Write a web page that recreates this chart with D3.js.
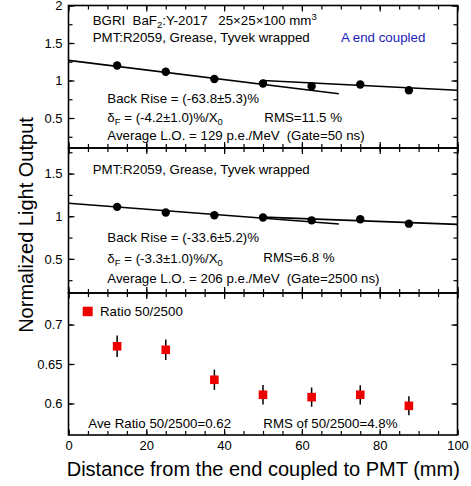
<!DOCTYPE html>
<html>
<head>
<meta charset="utf-8">
<script src="https://cdn.jsdelivr.net/npm/d3@7"></script>
<style>
  body { margin: 0; background: #fff; }
  text { font-family: Arial, "Liberation Sans", sans-serif; }
</style>
</head>
<body>
<script>
// size of the whole figure
var w = 471;
var h = 486;
var left = 68.5;
var right = 457.5;

// measurement positions along the crystal (mm)
var distance = [12.5, 25, 37.5, 50, 62.5, 75, 87.5];

// normalized light output, gate 50 ns and 2500 ns
var lo50 = [1.20, 1.116, 1.02, 0.96, 0.924, 0.947, 0.87];
var lo2500 = [1.11, 1.044, 1.012, 0.985, 0.952, 0.964, 0.913];

// ratio 50/2500 with errors
var ratio = [0.6725, 0.668, 0.630, 0.611, 0.608, 0.611, 0.597];
var ratioErr = [0.0135, 0.013, 0.0128, 0.0123, 0.0122, 0.0122, 0.012];

// fit lines, end points [distance, value]
var front50 = [[0, 1.268], [69.5, 0.823]];
var back50 = [[50, 1.0], [100, 0.87]];
var front2500 = [[0, 1.152], [69.5, 0.909]];
var back2500 = [[50, 0.99], [100, 0.905]];

// tick values
var xTicks = [0, 20, 40, 60, 80, 100];
var yTicks1 = [0.5, 1, 1.5, 2];
var yTicks2 = [0.5, 1, 1.5];
var yTicks3 = [0.6, 0.65, 0.7];

var svg = d3.select("body")
            .append("svg")
            .attr("width", w)
            .attr("height", h);

var x = d3.scaleLinear()
          .domain([0, 100])
          .range([left, right]);

var y1 = d3.scaleLinear().domain([0.1, 2]).range([148, 5.5]);
var y2 = d3.scaleLinear().domain([0.1, 1.8]).range([293, 148]);
var y3 = d3.scaleLinear().domain([0.56, 0.74]).range([435, 293]);

// draws inward ticks on all four sides plus the frame
function frame(y, major, minor, labels) {
  var top = y.range()[1];
  var bottom = y.range()[0];
  var g = svg.append("g");

  var axes = [
    {a: d3.axisTop(x), t: "translate(0," + top + ")", vals: [d3.range(0, 101, 20), d3.range(0, 101, 5)]},
    {a: d3.axisBottom(x), t: "translate(0," + bottom + ")", vals: [d3.range(0, 101, 20), d3.range(0, 101, 5)]},
    {a: d3.axisLeft(y), t: "translate(" + left + ",0)", vals: [major, minor]},
    {a: d3.axisRight(y), t: "translate(" + right + ",0)", vals: [major, minor]}
  ];

  axes.forEach(function(d) {
    g.append("g")
     .attr("transform", d.t)
     .call(d.a.tickValues(d.vals[1]).tickSize(-4).tickFormat(""))
     .call(s => s.select(".domain").remove())
     .call(s => s.selectAll("text").remove());
    g.append("g")
     .attr("transform", d.t)
     .call(d.a.tickValues(d.vals[0]).tickSize(-6).tickFormat(""))
     .call(s => s.select(".domain").remove())
     .call(s => s.selectAll("text").remove());
  });

  g.selectAll("line").attr("stroke-width", 1.2);

  // tick labels on the left
  g.append("g")
   .attr("transform", "translate(" + left + ",0)")
   .call(d3.axisLeft(y).tickValues(labels).tickSize(0).tickPadding(6).tickFormat(d3.format("")))
   .call(s => s.select(".domain").remove())
   .selectAll("text")
   .attr("font-size", "13px")
   .attr("font-family", null)
   .attr("fill", "#000");

  g.append("rect")
   .attr("x", left)
   .attr("y", top)
   .attr("width", right - left)
   .attr("height", bottom - top)
   .attr("fill", "none")
   .attr("stroke", "black")
   .attr("stroke-width", 1.6);
}

frame(y1, yTicks1, d3.range(0.25, 2.01, 0.25), yTicks1);
frame(y2, yTicks2, d3.range(0.25, 1.76, 0.25), yTicks2);
frame(y3, yTicks3, yTicks3, yTicks3);

// x tick labels
svg.append("g")
   .attr("transform", "translate(0,435)")
   .call(d3.axisBottom(x).tickValues(xTicks).tickSize(0).tickPadding(6))
   .call(s => s.select(".domain").remove())
   .selectAll("text")
   .attr("font-size", "13px")
   .attr("font-family", null)
   .attr("fill", "#000");

// fit lines and points
function lightPanel(y, values, fits) {
  var line = d3.line()
               .x(d => x(d[0]))
               .y(d => y(d[1]));

  fits.forEach(function(f) {
    svg.append("path")
       .attr("d", line(f))
       .attr("fill", "none")
       .attr("stroke", "black")
       .attr("stroke-width", 1.6);
  });

  svg.append("g")
     .selectAll("circle")
     .data(values)
     .enter().append("circle")
     .attr("cx", (d, i) => x(distance[i]))
     .attr("cy", d => y(d))
     .attr("r", 4.2)
     .attr("fill", "black");
}

lightPanel(y1, lo50, [front50, back50]);
lightPanel(y2, lo2500, [front2500, back2500]);

// ratio panel
var bars = svg.append("g");
bars.selectAll("line")
    .data(ratio)
    .enter().append("line")
    .attr("x1", (d, i) => x(distance[i]))
    .attr("x2", (d, i) => x(distance[i]))
    .attr("y1", (d, i) => y3(d - ratioErr[i]))
    .attr("y2", (d, i) => y3(d + ratioErr[i]))
    .attr("stroke", "black")
    .attr("stroke-width", 1.5);

bars.selectAll("rect")
    .data(ratio)
    .enter().append("rect")
    .attr("x", (d, i) => x(distance[i]) - 4.3)
    .attr("y", d => y3(d) - 4.3)
    .attr("width", 8.6)
    .attr("height", 8.6)
    .attr("fill", "#ee0000");

// texts; parts are [text, shift, absolute x]; shift > 0 is subscript, < 0 superscript
function label(px, py, parts, color) {
  var t = svg.append("text")
             .attr("x", px)
             .attr("y", py)
             .attr("font-size", "13.3px")
             .attr("fill", color || "black");
  var cur = 0;
  parts.forEach(function(p) {
    var shift = p[1] || 0;
    var s = t.append("tspan").text(p[0]);
    if (shift != cur) s.attr("dy", shift - cur);
    if (shift != 0) s.attr("font-size", "9.5px");
    if (p[2] != null) s.attr("x", p[2]);
    cur = shift;
  });
  return t;
}

label(92.7, 25, [["BGRI  BaF"], ["2", 3], [":Y-2017"], ["25\u00d725\u00d7100 mm", 0, 218.3], ["3", -5]])
  .style("white-space", "pre");
label(92.7, 42, [["PMT:R2059, Grease, Tyvek wrapped"]]);
label(341, 42, [["A end coupled"]], "#2020b8");

label(107.3, 103, [["Back Rise = (-63.8\u00b15.3)%"]]);
label(107.3, 122, [["\u03b4"], ["F", 3], [" = (-4.2\u00b11.0)%/X"], ["0", 3]]).style("white-space", "pre");
label(264.3, 121.7, [["RMS=11.5 %"]]);
label(107.3, 140, [["Average L.O. = 129 p.e./MeV"], ["(Gate=50 ns)", 0, 286.7]]);

label(92.7, 174, [["PMT:R2059, Grease, Tyvek wrapped"]]);
label(107.3, 241.7, [["Back Rise = (-33.6\u00b15.2)%"]]);
label(107.3, 263.3, [["\u03b4"], ["F", 3], [" = (-3.3\u00b11.0)%/X"], ["0", 3]]).style("white-space", "pre");
label(263.3, 262.3, [["RMS=6.8 %"]]);
label(107.3, 283, [["Average L.O. = 206 p.e./MeV"], ["(Gate=2500 ns)", 0, 286.7]]);

// legend of ratio panel
svg.append("rect")
   .attr("x", 82.7)
   .attr("y", 306.7)
   .attr("width", 10)
   .attr("height", 9.5)
   .attr("fill", "#ee0000");
label(100, 316, [["Ratio 50/2500"]]);
label(88.3, 427.7, [["Ave Ratio 50/2500=0.62"]]);
label(263.3, 427.7, [["RMS of 50/2500=4.8%"]]);

// axis titles
svg.append("text")
   .attr("x", 66.7)
   .attr("y", 476)
   .attr("font-size", "20px")
   .text("Distance from the end coupled to PMT (mm)");
svg.append("text")
   .attr("transform", "translate(33,225) rotate(-90)")
   .attr("text-anchor", "middle")
   .attr("font-size", "20px")
   .text("Normalized Light Output");
</script>
</body>
</html>
